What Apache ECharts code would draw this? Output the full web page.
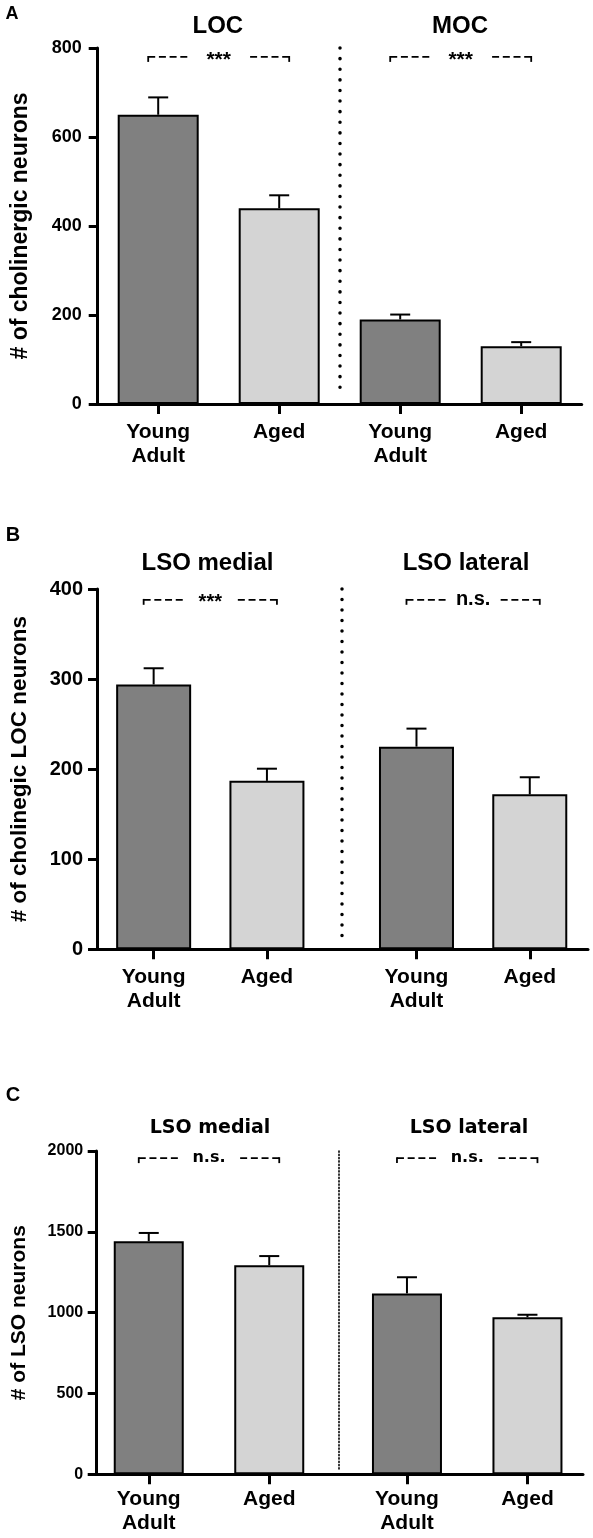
<!DOCTYPE html>
<html><head><meta charset="utf-8">
<script src="https://cdn.jsdelivr.net/npm/echarts@6/dist/echarts.min.js"></script>
<style>html,body{margin:0;padding:0;background:#fff}#c{width:593px;height:1538px}</style>
</head><body><div id="c"></div>
<script>
// ---------------- DATA ----------------
const conditions = ['Young\nAdult', 'Aged'];

// Panel A
const groupsA = ['LOC', 'MOC'];
const youngA = [650, 190];
const youngErrA = [39, 11];
const agedA = [440, 130];
const agedErrA = [29, 9];
const sigA = ['***', '***'];
const yTicksA = [0, 200, 400, 600, 800];
const yNameA = '# of cholinergic neurons';

// Panel B
const groupsB = ['LSO medial', 'LSO lateral'];
const youngB = [294, 225];
const youngErrB = [18, 20];
const agedB = [187, 172];
const agedErrB = [13.5, 19];
const sigB = ['***', 'n.s.'];
const yTicksB = [0, 100, 200, 300, 400];
const yNameB = '# of cholinegic LOC neurons';

// Panel C
const groupsC = ['LSO medial', 'LSO lateral'];
const youngC = [1442, 1119];
const youngErrC = [51, 100];
const agedC = [1293, 972];
const agedErrC = [57, 15];
const sigC = ['n.s.', 'n.s.'];
const yTicksC = [0, 500, 1000, 1500, 2000];
const yNameC = '# of LSO neurons';

// ---------------- LAYOUT / STYLE ----------------
const ARIAL = '"Liberation Sans", Arial, sans-serif';
const DEJA = '"DejaVu Sans", sans-serif';
const DARK = '#808080', LIGHT = '#d4d4d4';

const panels = [
  { letter: 'A', letterPos: [12, 14], letterSize: 18,
    groups: groupsA, young: youngA, youngErr: youngErrA, aged: agedA, agedErr: agedErrA, sig: sigA,
    ticks: yTicksA, yName: yNameA,
    grid: { left: 97.7, top: 48, width: 484, height: 356 },
    xMax: 4, slots: [0.5, 1.5, 2.5, 3.5], divider: 2, divEnd: 0.02,
    divStyle: { width: 3.5, type: [0.1, 10.5] },
    barWidth: 81, titleY: 26, titleX: [217.8, 460], titleFont: ARIAL, titleSize: 24,
    tickFont: ARIAL, tickSize: 18, tickMargin: 16,
    catSize: 21, catLH: 24.5, catMargin: 15.5,
    nameSize: 23, nameGap: 66,
    sigFont: ARIAL, sigSize: 21, sigLevel: 0.975 },
  { letter: 'B', letterPos: [13, 535], letterSize: 20,
    groups: groupsB, young: youngB, youngErr: youngErrB, aged: agedB, agedErr: agedErrB, sig: sigB,
    ticks: yTicksB, yName: yNameB,
    grid: { left: 97, top: 589, width: 491, height: 360.3 },
    xMax: 4.334, slots: [0.5, 1.5, 2.82, 3.82], divider: 2.16, divEnd: 0.015,
    divStyle: { width: 3.5, type: [0.1, 10.4] },
    barWidth: 75, titleY: 563, titleX: [207.5, 466], titleFont: ARIAL, titleSize: 24,
    tickFont: ARIAL, tickSize: 20, tickMargin: 14,
    catSize: 21, catLH: 24, catMargin: 15.5,
    nameSize: 22.5, nameGap: 66,
    sigFont: ARIAL, sigSize: 20, sigLevel: 0.97 },
  { letter: 'C', letterPos: [13, 1095], letterSize: 20,
    groups: groupsC, young: youngC, youngErr: youngErrC, aged: agedC, agedErr: agedErrC, sig: sigC,
    ticks: yTicksC, yName: yNameC,
    grid: { left: 96.7, top: 1151, width: 486.3, height: 323.3 },
    xMax: 4.036, slots: [0.432, 1.432, 2.575, 3.575], divider: 2.005, divEnd: 0.015,
    divStyle: { width: 1.6, type: [1.2, 2.1] },
    barWidth: 70, titleY: 1128, titleX: [210, 469], titleFont: DEJA, titleSize: 19,
    tickFont: ARIAL, tickSize: 16, tickMargin: 13.5,
    catSize: 21, catLH: 23.5, catMargin: 13.5,
    nameSize: 21, nameGap: 67,
    sigFont: DEJA, sigSize: 16, sigLevel: 0.978 }
];

// ---------------- BUILD OPTION ----------------
const grids = [], xAxes = [], yAxes = [], series = [], graphics = [];

panels.forEach((p, i) => {
  const yMax = p.ticks[p.ticks.length - 1];
  grids.push(Object.assign({ containLabel: false }, p.grid));

  xAxes.push({
    type: 'value', gridIndex: i, min: 0, max: p.xMax,
    axisLine: { show: true, onZero: false, lineStyle: { color: '#000', width: 3 } },
    axisTick: { show: true, customValues: p.slots, length: 10, lineStyle: { color: '#000', width: 3 } },
    axisLabel: {
      show: true, customValues: p.slots, margin: p.catMargin,
      fontSize: p.catSize, fontWeight: 'bold', fontFamily: ARIAL, color: '#000', lineHeight: p.catLH,
      formatter: function (v) {
        const k = p.slots.findIndex(s => Math.abs(s - v) < 1e-6);
        return k < 0 ? '' : conditions[k % 2];
      }
    },
    splitLine: { show: false }
  });

  yAxes.push({
    type: 'value', gridIndex: i, min: p.ticks[0], max: yMax, interval: p.ticks[1] - p.ticks[0],
    axisLine: { show: true, lineStyle: { color: '#000', width: 3 } },
    axisTick: { show: true, length: 9, lineStyle: { color: '#000', width: 3 } },
    axisLabel: { fontSize: p.tickSize, fontWeight: 'bold', fontFamily: p.tickFont, color: '#000', margin: p.tickMargin,
                 formatter: function (v) { return String(v); } },
    splitLine: { show: false },
    name: p.yName, nameLocation: 'middle', nameGap: p.nameGap,
    nameTextStyle: { fontSize: p.nameSize, fontWeight: 'bold', fontFamily: ARIAL, color: '#000' }
  });

  const youngPts = p.young.map((v, g) => [p.slots[2 * g], v]);
  const agedPts = p.aged.map((v, g) => [p.slots[2 * g + 1], v]);

  series.push({
    name: 'Young Adult', type: 'bar', xAxisIndex: i, yAxisIndex: i,
    data: youngPts, barWidth: p.barWidth, barGap: '-100%',
    itemStyle: { color: DARK, borderColor: '#000', borderWidth: 2 },
    markLine: {
      silent: true, symbol: ['none', 'none'], label: { show: false },
      lineStyle: { color: '#000', width: p.divStyle.width, type: p.divStyle.type, cap: 'round' },
      data: [[{ coord: [p.divider, yMax] }, { coord: [p.divider, yMax * p.divEnd] }]]
    }
  });
  series.push({
    name: 'Aged', type: 'bar', xAxisIndex: i, yAxisIndex: i,
    data: agedPts, barWidth: p.barWidth, barGap: '-100%',
    itemStyle: { color: LIGHT, borderColor: '#000', borderWidth: 2 }
  });

  // error bars (upper only)
  const errData = [];
  p.young.forEach((v, g) => {
    errData.push([p.slots[2 * g], v, v + p.youngErr[g]]);
    errData.push([p.slots[2 * g + 1], p.aged[g], p.aged[g] + p.agedErr[g]]);
  });
  series.push({
    type: 'custom', xAxisIndex: i, yAxisIndex: i, z: 5, silent: true,
    encode: { x: 0, y: [1, 2] },
    data: errData,
    renderItem: function (params, api) {
      const x = api.value(0);
      const a = api.coord([x, api.value(1)]);
      const b = api.coord([x, api.value(2)]);
      const st = { stroke: '#000', lineWidth: 2 };
      return { type: 'group', children: [
        { type: 'line', shape: { x1: a[0], y1: a[1], x2: b[0], y2: b[1] }, style: st },
        { type: 'line', shape: { x1: b[0] - 10, y1: b[1], x2: b[0] + 10, y2: b[1] }, style: st }
      ] };
    }
  });

  // significance brackets
  const brData = p.groups.map((gname, g) => [p.slots[2 * g], p.slots[2 * g + 1], yMax * p.sigLevel]);
  series.push({
    type: 'custom', xAxisIndex: i, yAxisIndex: i, z: 6, silent: true,
    encode: { x: [0, 1], y: 2 },
    data: brData,
    renderItem: function (params, api) {
      const a = api.coord([api.value(0), api.value(2)]);
      const b = api.coord([api.value(1), api.value(2)]);
      const y = a[1], xL = a[0] - 10, xR = b[0] + 10, seg = 40;
      const label = p.sig[params.dataIndex];
      const solid = { stroke: '#000', lineWidth: 1.8 };
      const dashed = { stroke: '#000', lineWidth: 1.8, lineDash: [7, 3.7] };
      const isStar = label.indexOf('*') >= 0;
      return { type: 'group', children: [
        { type: 'line', shape: { x1: xL, y1: y - 0.9, x2: xL, y2: y + 5 }, style: solid },
        { type: 'line', shape: { x1: xL, y1: y, x2: xL + seg, y2: y }, style: dashed },
        { type: 'line', shape: { x1: xR, y1: y, x2: xR - seg, y2: y }, style: dashed },
        { type: 'line', shape: { x1: xR, y1: y - 0.9, x2: xR, y2: y + 5 }, style: solid },
        { type: 'text', x: (xL + xR) / 2, y: y + (isStar ? 3 : 0),
          style: { text: label, align: 'center', verticalAlign: 'middle',
                   fontSize: p.sigSize, fontWeight: 'bold', fontFamily: p.sigFont, fill: '#000' } }
      ] };
    }
  });

  // panel letter + group titles
  graphics.push({ type: 'text', x: p.letterPos[0], y: p.letterPos[1],
    style: { text: p.letter, align: 'center', verticalAlign: 'middle', fontSize: p.letterSize,
             fontWeight: 'bold', fontFamily: ARIAL, fill: '#000' } });
  p.groups.forEach((gname, g) => {
    graphics.push({ type: 'text', x: p.titleX[g], y: p.titleY,
      style: { text: gname, align: 'center', verticalAlign: 'middle', fontSize: p.titleSize,
               fontWeight: 'bold', fontFamily: p.titleFont, fill: '#000' } });
  });
});

const chart = echarts.init(document.getElementById('c'), null, { renderer: 'canvas' });
chart.setOption({
  animation: false,
  backgroundColor: '#fff',
  grid: grids, xAxis: xAxes, yAxis: yAxes, series: series,
  graphic: { elements: graphics }
});
</script>
</body></html>
